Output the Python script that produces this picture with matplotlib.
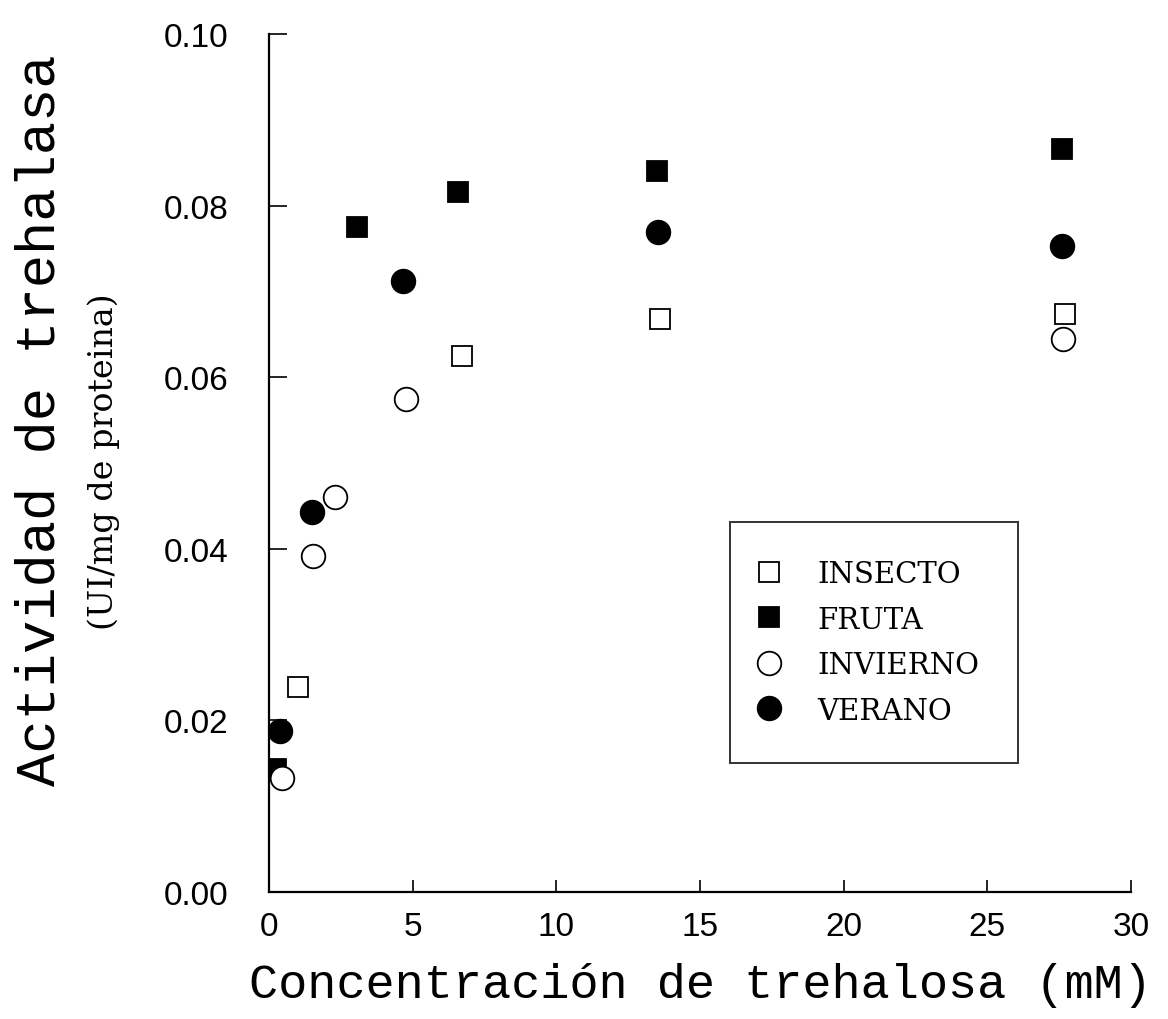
import numpy as np
import matplotlib.pyplot as plt

# Datos
insecto_x = [1.0, 6.7, 13.6, 27.7]
insecto_y = [0.0239, 0.0625, 0.0668, 0.0674]

fruta_x = [0.26, 3.05, 6.57, 13.5, 27.6]
fruta_y = [0.0143, 0.0775, 0.0816, 0.0840, 0.0866]

invierno_x = [0.44, 1.52, 2.28, 4.76, 27.65]
invierno_y = [0.0133, 0.0392, 0.0460, 0.0575, 0.0645]

verano_x = [0.40, 1.48, 4.65, 13.54, 27.6]
verano_y = [0.0188, 0.0443, 0.0712, 0.0769, 0.0753]

fig = plt.figure(figsize=(11.68, 10.2), dpi=100)
ax = fig.add_axes([0.2303, 0.1245, 0.738, 0.8412])

ax.plot(insecto_x, insecto_y, 's', ms=14, mfc='white', mec='black', mew=1.3, label='INSECTO')
ax.plot(fruta_x, fruta_y, 's', ms=14, mfc='black', mec='black', mew=1.3, label='FRUTA')
ax.plot(invierno_x, invierno_y, 'o', ms=17, mfc='white', mec='black', mew=1.3, label='INVIERNO')
ax.plot(verano_x, verano_y, 'o', ms=17, mfc='black', mec='black', mew=1.3, label='VERANO')

ax.set_xlim(0, 30)
ax.set_ylim(0, 0.10)
ax.set_xticks([0, 5, 10, 15, 20, 25, 30])
ax.set_yticks([0.0, 0.02, 0.04, 0.06, 0.08, 0.10])
ax.set_yticklabels(['0.00', '0.02', '0.04', '0.06', '0.08', '0.10'])

for s in ['top', 'right']:
    ax.spines[s].set_visible(False)
for s in ['left', 'bottom']:
    ax.spines[s].set_linewidth(1.6)

ax.tick_params(axis='y', direction='in', length=13, width=1.2, pad=29, labelsize=24)
ax.tick_params(axis='x', direction='in', length=9, width=1.2, pad=14, labelsize=24)
for lab in ax.get_xticklabels() + ax.get_yticklabels():
    lab.set_family('Liberation Sans')

fig.text(0.035, 0.588, 'Actividad de trehalasa', rotation=90, ha='center', va='center',
         family='Liberation Mono', fontsize=40)
fig.text(0.089, 0.547, '(UI/mg de proteina)', rotation=90, ha='center', va='center',
         family='DejaVu Serif', fontsize=24)
fig.text(0.600, 0.034, 'Concentración de trehalosa (mM)', ha='center', va='center',
         family='Liberation Mono', fontsize=35)

leg = ax.legend(loc='upper left', bbox_to_anchor=(0.535, 0.431), frameon=True, fancybox=False,
                prop={'family': 'DejaVu Serif', 'size': 21}, handlelength=0.05,
                handletextpad=1.65, labelspacing=0.6, borderpad=1.3, borderaxespad=0)
leg.get_frame().set_edgecolor('black')
leg.get_frame().set_linewidth(1.4)

plt.savefig('out.png', dpi=100)
